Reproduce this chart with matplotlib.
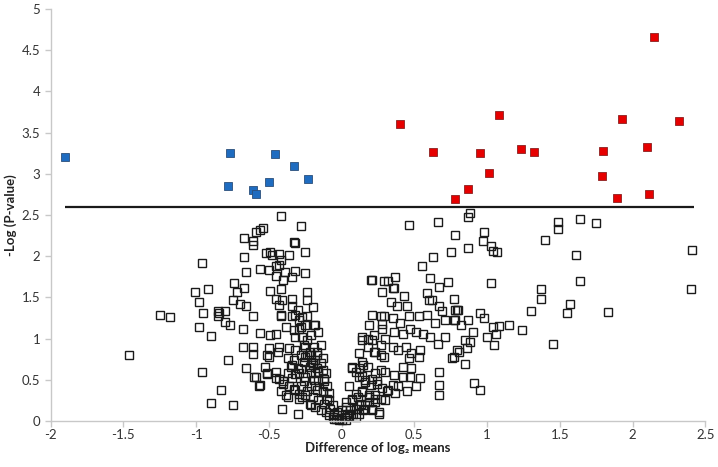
import matplotlib.pyplot as plt
import numpy as np

plt.rcParams['font.family'] = ['Lato', 'DejaVu Sans']

# significant points (down = blue, up = red)
down_x = [-1.90, -0.77, -0.46, -0.33, -0.23, -0.78, -0.50, -0.61, -0.59]
down_y = [3.21, 3.25, 3.24, 3.09, 2.94, 2.85, 2.90, 2.80, 2.75]

up_x = [0.40, 0.63, 0.95, 1.08, 1.23, 1.32, 1.01, 0.87, 0.78,
        2.15, 1.93, 2.32, 1.80, 2.10, 1.79, 1.89, 2.11]
up_y = [3.61, 3.26, 3.25, 3.71, 3.30, 3.26, 3.01, 2.81, 2.69,
        4.66, 3.66, 3.64, 3.28, 3.33, 2.97, 2.71, 2.75]

# non significant points, grouped by region of the plot
ns_far_left = [(-0.96, 1.92), (-0.92, 1.60), (-1.01, 1.56), (-0.98, 1.45), (-0.95, 1.31),
               (-0.85, 1.33), (-0.84, 1.31), (-0.80, 1.34), (-0.85, 1.27), (-0.80, 1.20),
               (-0.77, 1.17), (-0.98, 1.14), (-1.25, 1.29), (-1.18, 1.26), (-0.90, 1.03),
               (-0.78, 0.74), (-1.46, 0.80), (-0.96, 0.59), (-0.83, 0.38), (-0.90, 0.22)]

ns_left = [(-0.42, 2.49), (-0.28, 2.37), (-0.54, 2.34), (-0.56, 2.32), (-0.59, 2.29),
           (-0.67, 2.22), (-0.61, 2.19), (-0.61, 2.14), (-0.33, 2.17), (-0.32, 2.16),
           (-0.25, 2.05), (-0.36, 2.01), (-0.52, 2.04), (-0.49, 2.05), (-0.48, 2.01),
           (-0.43, 2.03), (-0.42, 1.95), (-0.67, 1.99), (-0.56, 1.85), (-0.50, 1.83),
           (-0.45, 1.88), (-0.43, 1.89), (-0.66, 1.81), (-0.45, 1.76), (-0.39, 1.81),
           (-0.32, 1.82), (-0.25, 1.80), (-0.34, 1.75), (-0.40, 1.71), (-0.74, 1.68),
           (-0.67, 1.62), (-0.72, 1.57), (-0.49, 1.58), (-0.42, 1.60), (-0.24, 1.56),
           (-0.45, 1.48), (-0.41, 1.47), (-0.34, 1.48), (-0.24, 1.47), (-0.75, 1.47),
           (-0.70, 1.42), (-0.66, 1.39), (-0.61, 1.27), (-0.43, 1.41), (-0.34, 1.39),
           (-0.30, 1.35), (-0.20, 1.38), (-0.42, 1.29), (-0.32, 1.29), (-0.29, 1.23),
           (-0.24, 1.27), (-0.68, 1.12), (-0.18, 1.17), (-0.56, 1.07), (-0.49, 1.04),
           (-0.38, 1.14), (-0.28, 1.14), (-0.27, 1.02), (-0.68, 0.90), (-0.61, 0.90),
           (-0.61, 0.81), (-0.50, 0.88), (-0.43, 0.90), (-0.36, 0.88), (-0.32, 0.86),
           (-0.25, 0.90), (-0.50, 0.78), (-0.66, 0.64), (-0.59, 0.54), (-0.56, 0.44),
           (-0.51, 0.58), (-0.45, 0.52), (-0.42, 0.37), (-0.37, 0.29), (-0.41, 0.15),
           (-0.30, 0.08), (-0.29, 0.27), (-0.75, 0.19),
           (-0.45, 1.06), (-0.51, 0.80), (-0.44, 0.84), (-0.53, 0.66), (-0.51, 0.57),
           (-0.60, 0.53), (-0.57, 0.43), (-0.45, 0.59), (-0.43, 0.51), (-0.40, 0.45),
           (-0.38, 0.31), (-0.33, 0.39), (-0.37, 0.76), (-0.34, 0.68), (-0.32, 0.57),
           (-0.28, 0.63), (-0.26, 0.92), (-0.25, 1.16), (-0.29, 1.12), (-0.33, 1.10),
           (-0.42, 1.28), (-0.34, 1.28), (-0.27, 1.26)]

ns_v_left = [(-0.32, 1.02), (-0.24, 0.98), (-0.28, 0.80), (-0.21, 0.80), (-0.26, 0.72),
             (-0.18, 0.74), (-0.22, 0.66), (-0.17, 0.64), (-0.13, 0.62), (-0.29, 0.58),
             (-0.25, 0.54), (-0.19, 0.50), (-0.16, 0.50), (-0.11, 0.58), (-0.21, 0.42),
             (-0.17, 0.38), (-0.13, 0.36), (-0.10, 0.42), (-0.20, 0.29), (-0.16, 0.25),
             (-0.12, 0.21), (-0.09, 0.25), (-0.22, 0.21), (-0.18, 0.17), (-0.14, 0.13),
             (-0.11, 0.11), (-0.08, 0.15), (-0.05, 0.09), (-0.09, 0.07), (-0.04, 0.03),
             (-0.02, 0.01), (-0.06, 0.05), (-0.03, 0.07), (-0.33, 0.74), (-0.35, 0.66),
             (-0.30, 0.64), (-0.34, 0.52), (-0.26, 0.48), (-0.28, 0.42), (-0.24, 0.36),
             (-0.27, 0.29), (-0.37, 0.58), (-0.40, 0.48), (-0.36, 0.42), (-0.32, 0.38),
             (-0.22, 0.84), (-0.19, 0.90), (-0.25, 0.78), (-0.17, 0.84), (-0.20, 0.70),
             (-0.14, 0.70), (-0.12, 0.48), (-0.09, 0.34), (-0.18, 0.58), (-0.21, 0.58),
             (-0.29, 0.33), (-0.25, 0.31), (-0.21, 0.19), (-0.24, 0.80), (-0.21, 0.72),
             (-0.19, 1.16), (-0.21, 1.04), (-0.16, 1.08), (-0.14, 0.92), (-0.17, 0.80),
             (-0.13, 0.76), (-0.20, 0.68), (-0.16, 0.60), (-0.12, 0.51), (-0.18, 0.43),
             (-0.13, 0.35), (-0.10, 0.27), (-0.06, 0.19), (-0.03, 0.11), (-0.05, 0.03)]

ns_v_right = [(0.46, 2.38), (0.66, 2.42), (0.78, 2.26), (0.75, 2.05), (0.63, 1.99),
              (0.55, 1.88), (0.61, 1.73), (0.73, 1.69), (0.21, 1.71), (0.20, 1.71),
              (0.29, 1.70), (0.32, 1.70), (0.37, 1.75), (0.35, 1.62), (0.36, 1.62),
              (0.28, 1.56), (0.43, 1.52), (0.67, 1.63), (0.59, 1.55), (0.60, 1.47),
              (0.62, 1.47), (0.34, 1.45), (0.38, 1.40), (0.45, 1.39), (0.67, 1.40),
              (0.69, 1.33), (0.78, 1.35), (0.21, 1.29), (0.29, 1.27), (0.35, 1.25),
              (0.40, 1.19), (0.46, 1.27), (0.53, 1.27), (0.59, 1.29), (0.64, 1.19),
              (0.71, 1.23), (0.77, 1.23), (0.19, 1.17), (0.28, 1.12), (0.36, 1.08),
              (0.42, 1.06), (0.47, 1.12), (0.51, 1.08), (0.56, 1.06), (0.61, 1.02),
              (0.66, 0.94), (0.71, 1.02), (0.14, 0.98), (0.21, 0.98), (0.30, 1.00),
              (0.35, 0.90), (0.39, 0.86), (0.44, 0.90), (0.48, 0.82), (0.54, 0.86),
              (0.53, 0.78), (0.46, 0.76), (0.42, 0.66), (0.48, 0.64), (0.77, 0.78),
              (0.79, 0.86), (0.12, 0.82), (0.22, 0.84), (0.29, 0.78), (0.27, 0.92),
              (0.67, 0.60), (0.54, 0.52), (0.67, 0.44), (0.67, 0.31), (0.45, 0.36),
              (0.37, 0.34), (0.35, 0.44), (0.30, 0.60), (0.27, 0.62), (0.23, 0.58),
              (0.18, 0.66), (0.14, 0.72), (0.07, 0.64), (0.10, 0.60), (0.05, 0.42),
              (0.12, 0.54), (0.16, 0.50), (0.20, 0.44), (0.24, 0.48), (0.28, 0.40),
              (0.31, 0.36), (0.23, 0.32), (0.19, 0.29), (0.14, 0.36), (0.11, 0.29),
              (0.07, 0.25), (0.13, 0.21), (0.16, 0.19), (0.21, 0.15), (0.26, 0.09),
              (0.10, 0.15), (0.06, 0.13), (0.04, 0.09), (0.02, 0.05), (0.03, 0.17),
              (0.00, 0.01), (0.05, 0.06), (0.08, 0.09), (0.12, 0.09), (0.15, 0.13),
              (0.19, 0.23), (0.23, 0.23), (0.27, 0.27), (0.30, 0.25), (0.32, 0.38),
              (0.39, 0.42), (0.36, 0.56), (0.42, 0.54), (0.47, 0.54), (0.51, 0.42),
              (0.27, 1.28), (0.28, 1.18), (0.07, 0.66), (0.12, 0.64), (0.15, 0.68),
              (0.14, 0.55), (0.16, 0.47), (0.21, 0.51), (0.24, 0.45), (0.10, 0.33),
              (0.14, 0.35), (0.19, 0.31), (0.23, 0.27), (0.03, 0.23), (0.07, 0.27),
              (0.12, 0.19), (0.16, 0.15), (0.21, 0.13), (0.26, 0.11), (0.00, 0.13),
              (0.05, 0.09), (0.10, 0.05), (-0.02, 0.03), (0.03, 0.01), (0.14, 1.02),
              (0.18, 1.00), (0.22, 1.04), (0.18, 0.90), (0.23, 0.84), (0.27, 0.80)]

ns_right = [(0.88, 2.53), (0.87, 2.47), (0.87, 2.10), (0.98, 2.29), (0.97, 2.19),
            (1.03, 2.12), (1.04, 2.06), (1.07, 2.05), (1.49, 2.42), (1.49, 2.33),
            (1.64, 2.45), (1.75, 2.40), (1.40, 2.20), (1.61, 2.01), (2.41, 2.07),
            (1.03, 1.68), (1.64, 1.70), (1.37, 1.60), (1.37, 1.48), (2.40, 1.60),
            (0.77, 1.48), (1.57, 1.42), (1.55, 1.31), (1.83, 1.32), (1.30, 1.34),
            (0.79, 1.35), (0.80, 1.35), (0.95, 1.31), (0.98, 1.25), (0.78, 1.22),
            (0.87, 1.22), (0.82, 1.16), (0.90, 1.08), (1.04, 1.14), (1.08, 1.15),
            (1.15, 1.16), (1.24, 1.11), (1.06, 1.06), (1.00, 1.02), (0.85, 0.98),
            (0.88, 0.96), (0.86, 0.88), (1.05, 0.92), (1.45, 0.94), (0.81, 0.84),
            (0.76, 0.77), (0.85, 0.69), (0.91, 0.46), (0.95, 0.38)]

threshold = 2.6
threshold_span = (-1.9, 2.42)

x_ticks = [-2, -1.5, -1, -0.5, 0, 0.5, 1, 1.5, 2, 2.5]
x_tick_labels = ['-2', '-1.5', '-1', '-0.5', '0', '0.5', '1', '1.5', '2', '2.5']
y_ticks = [0, 0.5, 1, 1.5, 2, 2.5, 3, 3.5, 4, 4.5, 5]
y_tick_labels = ['0', '0.5', '1', '1.5', '2', '2.5', '3', '3.5', '4', '4.5', '5']

fig = plt.figure(figsize=(7.18, 4.67), dpi=100)
ax = fig.add_axes([0.0706, 0.0985, 0.9117, 0.8822])

ns = np.array(ns_far_left + ns_left + ns_v_left + ns_v_right + ns_right)
ax.plot(ns[:, 0], ns[:, 1], 's', ms=6, mfc='none', mec='#1a1a1a', mew=1.0,
        clip_on=False, zorder=2)

ax.hlines(threshold, threshold_span[0], threshold_span[1], color='#1a1a1a', lw=1.6, zorder=1)

ax.plot(down_x, down_y, 's', ms=6.3, mfc='#1f6cc0', mec='#2b4f7a', mew=0.6, zorder=3)
ax.plot(up_x, up_y, 's', ms=6.3, mfc='#e60000', mec='#8a2020', mew=0.6, zorder=3)

ax.set_xlim(-2, 2.5)
ax.set_ylim(0, 5)
ax.set_xticks(x_ticks)
ax.set_xticklabels(x_tick_labels)
ax.set_yticks(y_ticks)
ax.set_yticklabels(y_tick_labels)

for side in ['top', 'right']:
    ax.spines[side].set_visible(False)
for side in ['left', 'bottom']:
    ax.spines[side].set_color('#c8c8c8')
    ax.spines[side].set_linewidth(1.0)
ax.tick_params(direction='out', length=4, width=1, color='#c8c8c8',
               labelcolor='#333333', labelsize=9.5)
ax.tick_params(axis='x', pad=2)

ax.set_xlabel('Difference of log₂ means', fontsize=9.5, fontweight='bold', color='#222222')
ax.set_ylabel('-Log (P-value)', fontsize=9.5, fontweight='bold', color='#222222')
ax.xaxis.set_label_coords(0.5, -0.05)
ax.yaxis.set_label_coords(-0.052, 0.5)

fig.savefig('out.png', dpi=100)
